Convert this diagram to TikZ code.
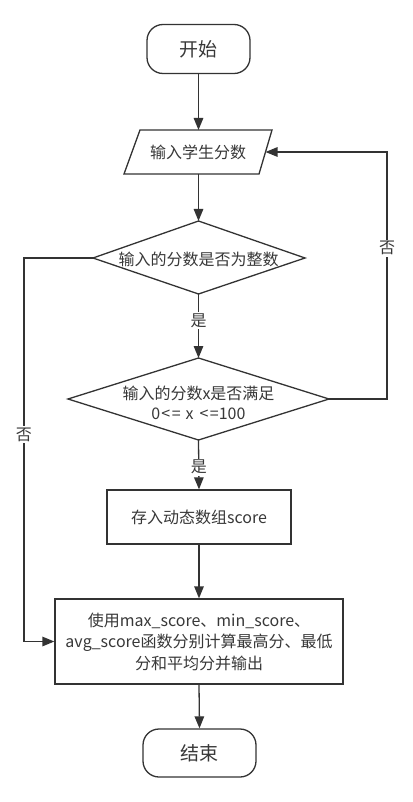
\documentclass[tikz,border=0pt]{standalone}
\usepackage{fontspec}
\setmainfont{Noto Sans CJK SC}
\usetikzlibrary{arrows.meta}
\definecolor{ln}{HTML}{333333}
\definecolor{tx}{HTML}{383838}
\begin{document}
\begin{tikzpicture}[x=1pt,y=-1pt,
  line/.style={draw=ln, line width=1.3pt},
  arr/.style={line, -{Triangle[length=12pt,width=9.5pt]}},
  term/.style={line, rounded corners=16pt, minimum width=103pt, minimum height=49pt, inner sep=0pt, font=\fontsize{19}{22}\selectfont, text=tx},
  proc/.style={line, inner sep=0pt, font=\fontsize{16}{21.5}\selectfont, text=tx, align=center},
  txt/.style={inner sep=0pt, font=\fontsize{16}{20}\selectfont, text=tx, align=center},
  lbl/.style={fill=white, inner sep=1.5pt, font=\fontsize{16}{18}\selectfont, text=tx}]
\useasboundingbox (0,0) rectangle (412,802);
\fill[white] (0,0) rectangle (412,802);

% start
\node[term] (start) at (198.5,49) {开始};

% parallelogram
\coordinate (p1) at (140,130);
\coordinate (p2) at (272,130);
\coordinate (p3) at (259,174);
\coordinate (p4) at (124,174);
\draw[line, line join=miter] (p1)--(p2)--(p3)--(p4)--cycle;
\node[txt] (input) at (198,152) {输入学生分数};
\coordinate (pin) at (198.5,130);
\coordinate (pout) at (198.5,174);
\coordinate (pright) at (265.5,152);

% diamond 1
\coordinate (d1t) at (198.5,221);
\coordinate (d1r) at (305,258);
\coordinate (d1b) at (198.5,294);
\coordinate (d1l) at (93,258);
\draw[line] (d1t)--(d1r)--(d1b)--(d1l)--cycle;
\node[txt] (q1) at (198.5,259) {输入的分数是否为整数};

% diamond 2
\coordinate (d2t) at (198.5,358);
\coordinate (d2r) at (329,399);
\coordinate (d2b) at (198.5,440);
\coordinate (d2l) at (68,399);
\draw[line] (d2t)--(d2r)--(d2b)--(d2l)--cycle;
\node[txt] (q2) at (198.5,403) {输入的分数x是否满足\\0\kern1pt<\kern1.5pt=\kern5pt x\kern6pt<\kern1.5pt=100};

% process boxes
\node[proc, minimum width=184pt, minimum height=54pt] (store) at (199,517) {存入动态数组score};
\node[proc, minimum width=288pt, minimum height=85pt] (calc) at (199,641.5) {使用max\_score、min\_score、\\avg\_score函数分别计算最高分、最低\\分和平均分并输出};

% end
\node[term, minimum width=113pt, minimum height=48pt] (stop) at (199.5,753) {结束};

% connectors
\draw[arr] (start.south) -- (pin);
\draw[arr] (pout) -- (d1t);
\draw[arr] (d1b) -- node[lbl, pos=0.42] (yes1) {是} (d2t);
\draw[arr] (d2b) -- node[lbl, pos=0.55] (yes2) {是} (store.north);
\draw[arr] (store.south) -- (calc.north);
\draw[arr] (calc.south) -- (stop.north);

\coordinate (rc1) at (387,399);
\coordinate (rc2) at (387,152);
\draw[arr] (d2r) -- (rc1) -- node[lbl, pos=0.61] (no2) {否} (rc2) -- (pright);

\coordinate (lc1) at (24,258);
\coordinate (lc2) at (24,641.5);
\draw[arr] (d1l) -- (lc1) -- node[lbl, pos=0.46] (no1) {否} (lc2) -- (calc.west);
\end{tikzpicture}
\end{document}
